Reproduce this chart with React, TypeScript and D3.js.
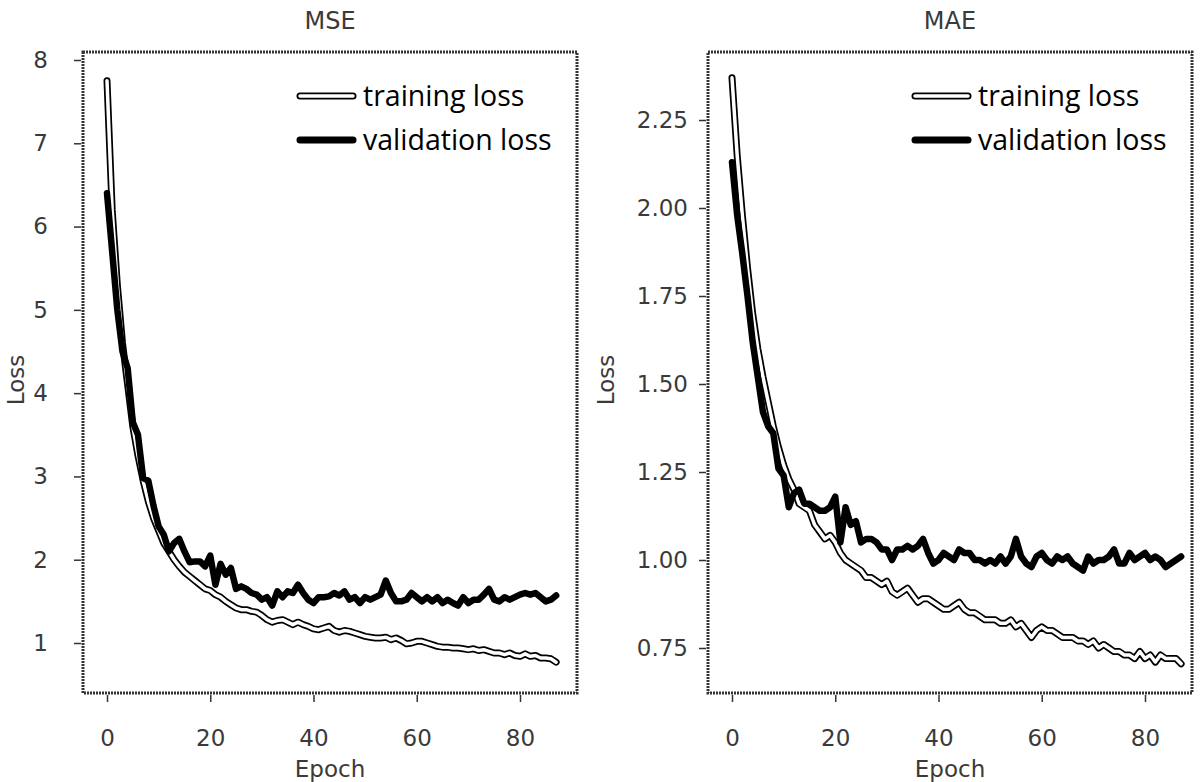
import * as React from 'react';
import { select, line, scaleLinear, axisBottom, axisLeft } from 'd3';

const { useRef, useEffect } = React;

// epochs 0..87
const mseTraining = [
    7.75, 6.2, 5.3, 4.6, 4.1, 3.6, 3.25, 2.95, 2.7, 2.5,
    2.35, 2.2, 2.1, 2.0, 1.92, 1.85, 1.8, 1.75, 1.7, 1.65,
    1.63, 1.58, 1.55, 1.5, 1.46, 1.42, 1.4, 1.4, 1.38, 1.37,
    1.33, 1.28, 1.25, 1.27, 1.28, 1.25, 1.22, 1.25, 1.22, 1.2,
    1.17, 1.16, 1.18, 1.2, 1.15, 1.13, 1.15, 1.14, 1.12, 1.1,
    1.08, 1.07, 1.06, 1.06, 1.07, 1.04, 1.06, 1.03, 0.99, 1.0,
    1.02, 1.02, 1.0, 0.98, 0.96, 0.95, 0.95, 0.94, 0.94, 0.93,
    0.92, 0.93, 0.91, 0.92, 0.9, 0.88, 0.88, 0.86, 0.88, 0.85,
    0.84, 0.87, 0.84, 0.85, 0.82, 0.82, 0.81, 0.77,
];
const mseValidation = [
    6.4, 5.7, 5.0, 4.5, 4.3, 3.65, 3.5, 2.98, 2.95, 2.65,
    2.4, 2.3, 2.1, 2.2, 2.25, 2.1, 1.97, 1.98, 1.98, 1.92,
    2.05, 1.7, 1.95, 1.82, 1.9, 1.65, 1.68, 1.65, 1.6, 1.58,
    1.52, 1.55, 1.45, 1.62, 1.55, 1.62, 1.6, 1.7, 1.6, 1.52,
    1.48, 1.55, 1.55, 1.56, 1.6, 1.57, 1.62, 1.52, 1.55, 1.48,
    1.55, 1.52, 1.55, 1.58, 1.75, 1.6, 1.5, 1.5, 1.52, 1.6,
    1.55, 1.5, 1.55, 1.5, 1.55, 1.48, 1.52, 1.48, 1.45, 1.55,
    1.48, 1.52, 1.52, 1.58, 1.65, 1.52, 1.5, 1.55, 1.52, 1.55,
    1.58, 1.6, 1.58, 1.6, 1.55, 1.5, 1.52, 1.57,
];
const maeTraining = [
    2.37, 2.15, 1.98, 1.83, 1.7, 1.6, 1.52, 1.45, 1.38, 1.32,
    1.27, 1.23, 1.2, 1.16, 1.15, 1.14, 1.1, 1.08, 1.06, 1.07,
    1.05, 1.02, 1.0, 0.99, 0.98, 0.97, 0.95, 0.95, 0.94, 0.93,
    0.94, 0.91, 0.9, 0.91, 0.92, 0.9, 0.88, 0.89, 0.89, 0.88,
    0.87, 0.86, 0.86, 0.87, 0.88, 0.86, 0.85, 0.85, 0.84, 0.83,
    0.83, 0.83, 0.82, 0.82, 0.83, 0.81, 0.82, 0.8, 0.78, 0.8,
    0.81, 0.8, 0.8, 0.79, 0.78, 0.78, 0.78, 0.77, 0.77, 0.76,
    0.77, 0.75, 0.76, 0.75, 0.74, 0.74, 0.73, 0.73, 0.72, 0.74,
    0.72, 0.73, 0.71, 0.73, 0.72, 0.72, 0.72, 0.705,
];
const maeValidation = [
    2.13, 1.98, 1.87, 1.75, 1.62, 1.52, 1.42, 1.38, 1.36, 1.26,
    1.24, 1.15, 1.19, 1.2, 1.16, 1.16, 1.15, 1.14, 1.14, 1.15,
    1.18, 1.05, 1.15, 1.1, 1.11, 1.05, 1.06, 1.06, 1.05, 1.03,
    1.03, 1.0, 1.03, 1.03, 1.04, 1.03, 1.04, 1.06, 1.02, 0.99,
    1.0, 1.02, 1.01, 1.0, 1.03, 1.02, 1.02, 1.0, 1.0, 0.99,
    1.0, 0.99, 1.01, 0.99, 1.01, 1.06, 1.01, 0.99, 0.98, 1.01,
    1.02, 1.0, 0.99, 1.01, 1.0, 1.01, 0.99, 0.98, 0.97, 1.01,
    0.99, 1.0, 1.0, 1.01, 1.03, 0.99, 0.99, 1.02, 1.0, 1.01,
    1.02, 1.0, 1.01, 1.0, 0.98, 0.99, 1.0, 1.01,
];

const epochTicks = [0, 20, 40, 60, 80];
const mseTicks = [1, 2, 3, 4, 5, 6, 7, 8];
const maeTicks = [0.75, 1.0, 1.25, 1.5, 1.75, 2.0, 2.25];
const legendLabels = ['training loss', 'validation loss'];

interface IPanel {
    title: string;
    training: number[];
    validation: number[];
    yTicks: number[];
    yDomain: [number, number];
    yRange: [number, number];
    yFormat: (v: number) => string;
    yPad: number;
    left: number;
    right: number;
    x0: number;
    yLabelX: number;
}

const TOP = 52;
const BOTTOM = 693;
const TEXT = '#3a3a3a';
const AXIS_FONT = 'DejaVu Sans';

/* Component */
const Panel = (props: IPanel): JSX.Element => {
    const xRef = useRef(null);
    const yRef = useRef(null);

    const xScale = scaleLinear().domain([0, 80]).range([props.x0, props.x0 + 413]);
    const yScale = scaleLinear().domain(props.yDomain).range(props.yRange);

    useEffect(() => {
        const xAxis = axisBottom(xScale).tickValues(epochTicks).tickSize(7).tickPadding(28);
        const gx = select(xRef.current).call(xAxis as any);
        gx.select('.domain').remove();
        gx.selectAll('line').attr('stroke', '#333').attr('stroke-width', 1.5);
        gx.selectAll('text')
            .attr('fill', TEXT)
            .style('font-family', AXIS_FONT)
            .style('font-size', '23px');

        const yAxis = axisLeft(yScale).tickValues(props.yTicks).tickSize(7).tickPadding(props.yPad)
            .tickFormat(props.yFormat as any);
        const gy = select(yRef.current).call(yAxis as any);
        gy.select('.domain').remove();
        gy.selectAll('line').attr('stroke', '#333').attr('stroke-width', 1.5);
        gy.selectAll('text')
            .attr('fill', TEXT)
            .style('font-family', AXIS_FONT)
            .style('font-size', '23px');
    }, []);

    const path = line<number>()
        .x((d, i) => xScale(i))
        .y(d => yScale(d));

    const midX = (props.left + props.right) / 2;
    const legX = props.right - 277;

    return (
        <g>
            <text x={midX} y={29} textAnchor="middle" fill={TEXT}
                style={{ fontFamily: AXIS_FONT, fontSize: 24 }}>{props.title}</text>
            <rect x={props.left} y={TOP} width={props.right - props.left} height={BOTTOM - TOP}
                fill="none" stroke="#333" strokeWidth={3} strokeDasharray="2 1" />
            <g ref={xRef} transform={`translate(0, ${BOTTOM + 2})`} />
            <g ref={yRef} transform={`translate(${props.left - 2}, 0)`} />

            <path d={path(props.training) || ''} fill="none" stroke="#000" strokeWidth={7}
                strokeLinejoin="round" strokeLinecap="round" />
            <path d={path(props.training) || ''} fill="none" stroke="#fff" strokeWidth={3.5}
                strokeLinejoin="round" strokeLinecap="round" />
            <path d={path(props.validation) || ''} fill="none" stroke="#000" strokeWidth={6.5}
                strokeLinejoin="round" strokeLinecap="round" />

            <line x1={legX} x2={legX + 53} y1={96} y2={96} stroke="#000" strokeWidth={7} strokeLinecap="round" />
            <line x1={legX} x2={legX + 53} y1={96} y2={96} stroke="#fff" strokeWidth={3.5} strokeLinecap="round" />
            <line x1={legX} x2={legX + 53} y1={140} y2={140} stroke="#000" strokeWidth={7} strokeLinecap="round" />
            <text x={legX + 63} y={106} style={{ fontFamily: 'Open Sans', fontSize: 28.5 }}>{legendLabels[0]}</text>
            <text x={legX + 63} y={150} style={{ fontFamily: 'Open Sans', fontSize: 28.5 }}>{legendLabels[1]}</text>

            <text x={midX} y={777} textAnchor="middle" fill={TEXT}
                style={{ fontFamily: AXIS_FONT, fontSize: 23 }}>Epoch</text>
            <text transform={`translate(${props.yLabelX}, 380) rotate(-90)`} textAnchor="middle" fill={TEXT}
                style={{ fontFamily: AXIS_FONT, fontSize: 23 }}>Loss</text>
        </g>
    );
};

export default function App(): JSX.Element {
    return (
        <svg width={1201} height={782} style={{ position: 'absolute', left: 0, top: 0, background: '#fff' }}>
            <Panel title="MSE" training={mseTraining} validation={mseValidation}
                yTicks={mseTicks} yDomain={[1, 8]} yRange={[643, 60]} yFormat={v => String(v)} yPad={26}
                left={83} right={577} x0={107} yLabelX={24} />
            <Panel title="MAE" training={maeTraining} validation={maeValidation}
                yTicks={maeTicks} yDomain={[0.75, 2.25]} yRange={[648, 120]} yFormat={v => v.toFixed(2)} yPad={11}
                left={708} right={1192} x0={732} yLabelX={614} />
        </svg>
    );
}
